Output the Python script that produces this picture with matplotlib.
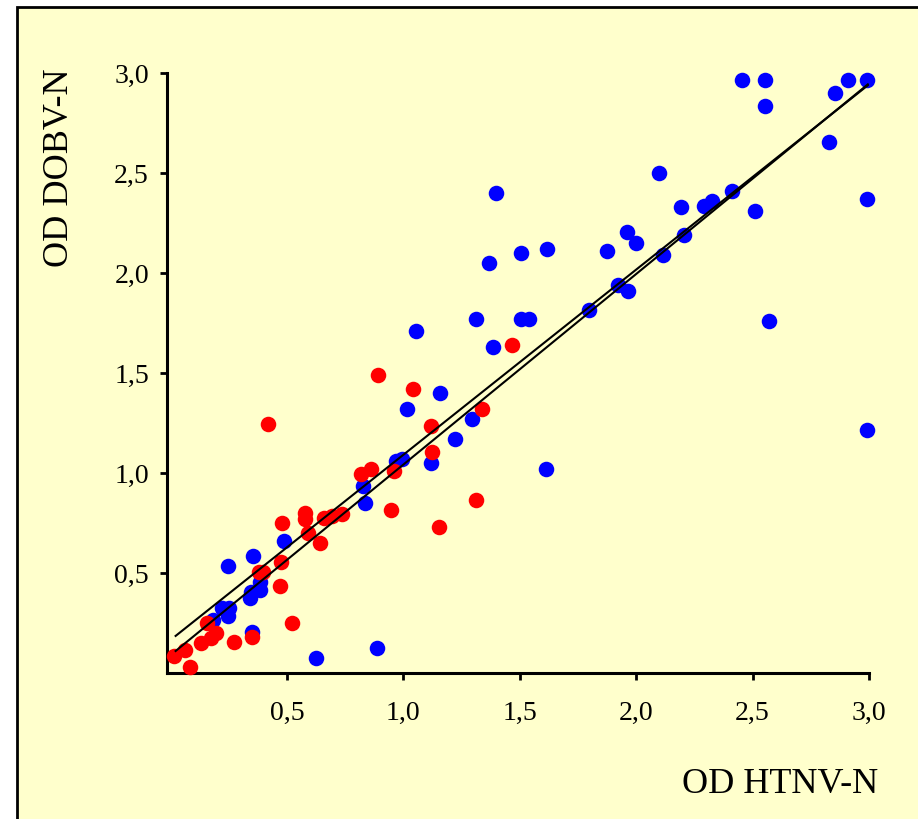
import matplotlib
matplotlib.use("Agg")
import matplotlib.pyplot as plt
from matplotlib.patches import Rectangle
from matplotlib.ticker import FuncFormatter


# blue group (x = OD HTNV-N, y = OD DOBV-N)
blue_x = [1.398, 1.369, 1.506, 1.31, 1.505, 1.54, 1.056, 1.387,
          2.455, 2.552, 2.911, 2.99, 2.856, 2.552, 2.827, 2.99, 2.096, 2.41,
          2.326, 2.293, 2.192, 2.512, 1.959, 1.999, 2.205, 1.617, 1.874, 2.117,
          1.92, 1.965, 1.798, 2.572, 1.612, 2.99,
          1.158, 1.015, 1.293, 1.223, 1.118, 0.968, 0.993, 0.827, 0.835, 0.488,
          0.356, 0.383, 0.383, 0.345, 0.34, 0.247, 0.223, 0.251, 0.247, 0.184,
          0.352, 0.889, 0.627]
blue_y = [2.40, 2.05, 2.10, 1.77, 1.77, 1.77, 1.71, 1.63,
          2.965, 2.965, 2.965, 2.965, 2.90, 2.835, 2.655, 2.37, 2.50, 2.41,
          2.36, 2.335, 2.33, 2.31, 2.205, 2.15, 2.19, 2.12, 2.11, 2.09,
          1.94, 1.91, 1.815, 1.76, 1.02, 1.215,
          1.40, 1.32, 1.27, 1.17, 1.05, 1.06, 1.07, 0.935, 0.848, 0.66,
          0.587, 0.453, 0.415, 0.405, 0.373, 0.535, 0.323, 0.323, 0.285, 0.265,
          0.203, 0.123, 0.077]

# red group
red_x = [1.465, 0.89, 1.042, 1.337, 0.418, 1.118, 1.122, 0.96, 0.82, 0.862,
         0.945, 1.311, 1.154, 0.736, 0.695, 0.66, 0.577, 0.577, 0.592, 0.641,
         0.48, 0.473, 0.469, 0.38, 0.397, 0.156, 0.194, 0.173, 0.13, 0.273,
         0.349, 0.52, 0.062, 0.015, 0.084]
red_y = [1.64, 1.49, 1.42, 1.32, 1.245, 1.235, 1.107, 1.01, 0.995, 1.02,
         0.815, 0.865, 0.73, 0.795, 0.787, 0.773, 0.80, 0.77, 0.70, 0.65,
         0.75, 0.553, 0.437, 0.505, 0.505, 0.25, 0.198, 0.173, 0.148, 0.157,
         0.18, 0.25, 0.115, 0.085, 0.028]

# the two regression lines: (intercept, slope)
line_fits = [(0.165, 0.926), (0.089, 0.953)]
line_x = [0.022, 2.995]

ticks = [0.5, 1.0, 1.5, 2.0, 2.5, 3.0]

x_label = "OD HTNV-N"
y_label = "OD DOBV-N"


def main():
    plt.rcParams["font.family"] = ["Liberation Serif", "DejaVu Serif"]

    fig = plt.figure(figsize=(9.18, 8.19), dpi=100, facecolor="white")

    # yellow panel with black frame (cut off at right and bottom)
    panel = Rectangle(
        (17 / 918, -0.05), 1.2, 1 - 7 / 819 + 0.05,
        transform=fig.transFigure,
        facecolor="#FFFFCC", edgecolor="black", linewidth=2, zorder=-1
    )
    fig.add_artist(panel)

    ax = fig.add_axes([167 / 918, 1 - 673 / 819, 702 / 918, 600 / 819])
    ax.set_facecolor("none")

    ax.scatter(blue_x, blue_y, s=125, color="#0000FF", linewidths=0,
               clip_on=False, zorder=2)
    ax.scatter(red_x, red_y, s=125, color="#FF0000", linewidths=0,
               clip_on=False, zorder=3)

    for b, m in line_fits:
        ax.plot(line_x, [b + m * v for v in line_x], color="black",
                linewidth=1.5, zorder=4)

    ax.set_xlim(-0.015, 3.0)
    ax.set_ylim(0, 3.0)
    ax.set_xticks(ticks)
    ax.set_yticks(ticks)

    fmt = FuncFormatter(lambda v, pos: f"{v:.1f}".replace(".", ","))
    ax.xaxis.set_major_formatter(fmt)
    ax.yaxis.set_major_formatter(fmt)

    for side in ["top", "right"]:
        ax.spines[side].set_visible(False)
    for side in ["left", "bottom"]:
        ax.spines[side].set_linewidth(2.2)

    ax.tick_params(axis="both", direction="out", length=5, width=2,
                   labelsize=20, colors="black")
    ax.tick_params(axis="x", pad=15)
    ax.tick_params(axis="y", pad=8)

    fig.text(780 / 918, 1 - 793 / 819, x_label, fontsize=26,
             ha="center", va="baseline")
    fig.text(60 / 918, 1 - 168 / 819, y_label, fontsize=26,
             rotation=90, ha="center", va="center")

    fig.savefig("out.png", dpi=100, facecolor="white")
    plt.close(fig)


if __name__ == "__main__":
    main()
